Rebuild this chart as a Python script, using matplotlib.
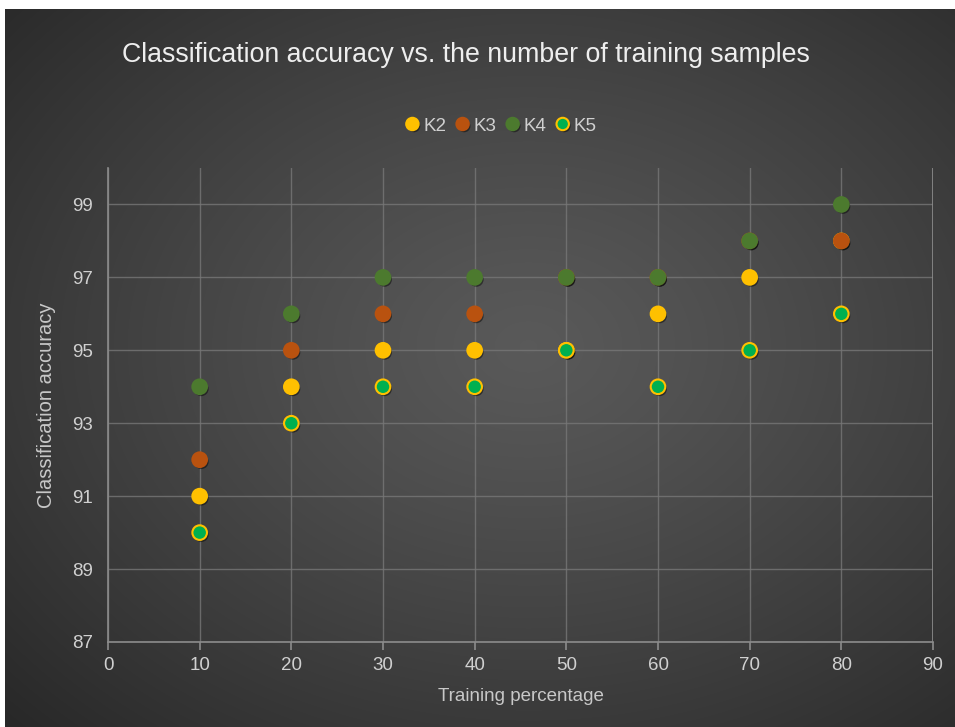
import numpy as np
import matplotlib
matplotlib.use("Agg")
import matplotlib.pyplot as plt
import matplotlib.patheffects as pe

plt.rcParams["font.family"] = ["Liberation Sans", "DejaVu Sans"]

# ── 数据 ──
train_pct = [10, 20, 30, 40, 50, 60, 70, 80]
k2 = [91, 94, 95, 95, 95, 96, 97, 98]
k3 = [92, 95, 96, 96, 97, 97, 98, 98]
k4 = [94, 96, 97, 97, 97, 97, 98, 99]
k5 = [90, 93, 94, 94, 95, 94, 95, 96]

x_ticks = [0, 10, 20, 30, 40, 50, 60, 70, 80, 90]
y_ticks = [87, 89, 91, 93, 95, 97, 99]

fig = plt.figure(figsize=(9.55, 7.27), dpi=100)
fig.patch.set_facecolor("white")

# ── 径向渐变背景 ──
bg = fig.add_axes([5 / 955, 0, 1 - 5 / 955, 1 - 9 / 727])
bg.set_axis_off()
h, w = 718, 950
yy, xx = np.mgrid[0:h, 0:w]
cx, cy = 0.55 * w, 0.47 * h
r = np.sqrt(((xx - cx) / (0.75 * w)) ** 2 + ((yy - cy) / (0.75 * h)) ** 2)
r = np.clip(r, 0, 1)
inner, outer = 0.35, 0.16
val = inner + (outer - inner) * r ** 1.2
img = np.dstack([val, val, val])
bg.imshow(img, aspect="auto", extent=[0, 1, 0, 1])

ax = fig.add_axes([108 / 955, 1 - 642 / 727, (933 - 108) / 955, (642 - 168) / 727])
ax.set_facecolor("none")
ax.set_xlim(0, 90)
ax.set_ylim(87, 100)
ax.set_xticks(x_ticks)
ax.set_yticks(y_ticks)

for s in ["top", "right"]:
    ax.spines[s].set_visible(False)
for s in ["left", "bottom"]:
    ax.spines[s].set_color("#8c8c8c")
    ax.spines[s].set_linewidth(1.2)
ax.tick_params(axis="x", colors="#8c8c8c", labelcolor="#d0d0d0", labelsize=13.5,
               length=6, width=1.2, direction="out", pad=5)
ax.tick_params(axis="y", length=0, labelcolor="#d0d0d0", labelsize=13.5, pad=11)
ax.grid(True, color="#777777", linewidth=1.0, alpha=0.8)
ax.set_axisbelow(True)
# 90 处的竖线
ax.axvline(90, color="#8c8c8c", linewidth=1.2)

shadow = [pe.SimplePatchShadow(offset=(1.2, -1.5), shadow_rgbFace="black", alpha=0.45), pe.Normal()]
series = [
    ("K2", k2, "#ffc000", "#ffc000"),
    ("K3", k3, "#b9520f", "#b9520f"),
    ("K4", k4, "#4c7a2e", "#4c7a2e"),
    ("K5", k5, "#00b050", "#ffc000"),
]
for name, vals, face, edge in series:
    ax.plot(train_pct, vals, linestyle="none", marker="o", markersize=10.5,
            markerfacecolor=face, markeredgecolor=edge, markeredgewidth=1.5,
            label=name, zorder=3, path_effects=shadow)

ax.set_xlabel("Training percentage", color="#c8c8c8", fontsize=13.5, labelpad=10)
ax.set_ylabel("Classification accuracy", color="#c8c8c8", fontsize=14.5, labelpad=11)

leg = fig.legend(loc="center", bbox_to_anchor=(500 / 955, 1 - 126 / 727), ncol=4,
                 frameon=False, fontsize=13.5, handletextpad=0.1, columnspacing=0.35,
                 handlelength=1.0, markerscale=0.85)
for t in leg.get_texts():
    t.set_color("#d0d0d0")

fig.text(466 / 955, 1 - 55 / 727, "Classification accuracy vs. the number of training samples",
         ha="center", va="center", color="#eeeeee", fontsize=19.3)

plt.savefig("out.png", dpi=100)
